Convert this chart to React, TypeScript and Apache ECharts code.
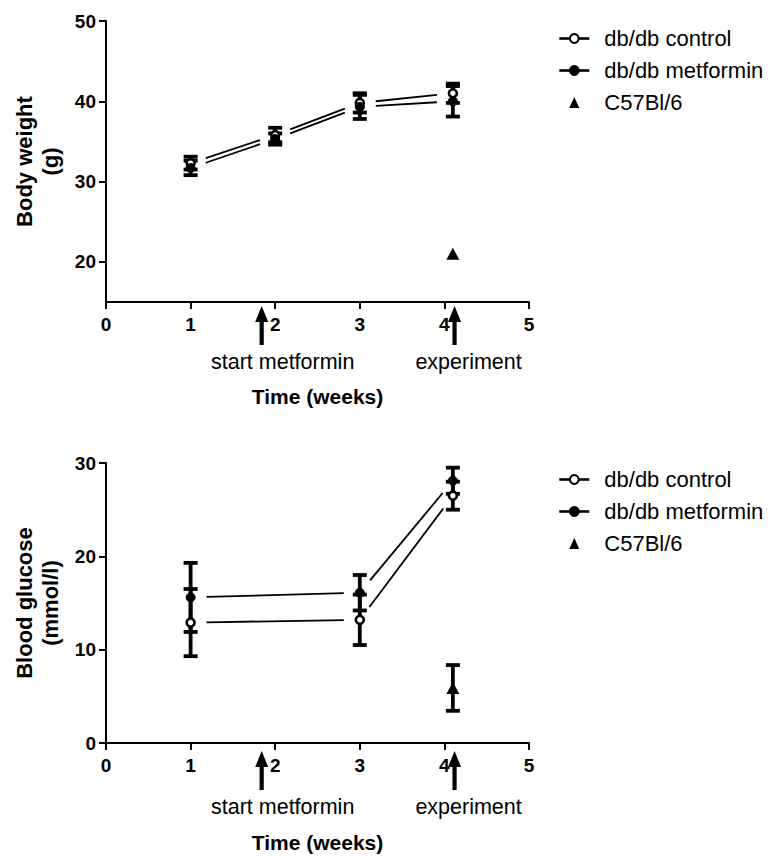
import React, { useEffect, useRef } from "react";
import * as echarts from "echarts";

// ---------- data ----------
const seriesNames = ["db/db control", "db/db metformin", "C57Bl/6"];
const xTickValues = [0, 1, 2, 3, 4, 5];

// Body weight (g)
const bwWeeks = [1, 2, 3, 4.1];
const bwControl = [32.3, 35.8, 39.8, 41.0];
const bwControlErr = [0.8, 0.9, 1.2, 1.2];
const bwMetformin = [31.7, 35.3, 39.3, 40.0];
const bwMetforminErr = [0.9, 0.7, 1.5, 1.9];
const bwC57Weeks = [4.1];
const bwC57 = [21.0];
const bwC57Err = [0];
const bwTicks = [20, 30, 40, 50];

// Blood glucose (mmol/l)
const bgWeeks = [1, 3, 4.1];
const bgControl = [12.9, 13.2, 26.5];
const bgControlErr = [3.6, 2.7, 1.5];
const bgMetformin = [15.6, 16.1, 28.1];
const bgMetforminErr = [3.7, 1.9, 1.4];
const bgC57Weeks = [4.1];
const bgC57 = [5.9];
const bgC57Err = [2.45];
const bgTicks = [0, 10, 20, 30];

// annotations
const arrowWeeks = [1.84, 4.12];
const arrowLabels = ["start metformin", "experiment"];

// ---------- layout / style ----------
const FONT = "'Liberation Sans', Arial, sans-serif";
const arrowLabelDx = [21, 14];
const LINE_GAP = 16;

const segs = (xs: number[], ys: number[]) => {
  const out: number[][] = [];
  for (let i = 0; i < xs.length - 1; i++) out.push([xs[i], ys[i], xs[i + 1], ys[i + 1]]);
  return out;
};
const errs = (xs: number[], ys: number[], es: number[]) =>
  xs.map((x, i) => [x, ys[i] - es[i], ys[i] + es[i]]).filter((d) => d[2] > d[1]);
const pts = (xs: number[], ys: number[]) => xs.map((x, i) => [x, ys[i]]);

const segmentSeries = (gi: number, xs: number[], ys: number[]) => ({
  type: "custom",
  xAxisIndex: gi,
  yAxisIndex: gi,
  silent: true,
  z: 2,
  encode: { x: [0, 2], y: [1, 3] },
  data: segs(xs, ys),
  renderItem: (params: any, api: any) => {
    const p1 = api.coord([api.value(0), api.value(1)]);
    const p2 = api.coord([api.value(2), api.value(3)]);
    const dx = p2[0] - p1[0];
    const dy = p2[1] - p1[1];
    const len = Math.hypot(dx, dy);
    const ux = dx / len;
    const uy = dy / len;
    return {
      type: "line",
      shape: {
        x1: p1[0] + ux * LINE_GAP,
        y1: p1[1] + uy * LINE_GAP,
        x2: p2[0] - ux * LINE_GAP,
        y2: p2[1] - uy * LINE_GAP,
      },
      style: { stroke: "#000", lineWidth: 1.8 },
    };
  },
});

const errorSeries = (gi: number, xs: number[], ys: number[], es: number[]) => ({
  type: "custom",
  xAxisIndex: gi,
  yAxisIndex: gi,
  silent: true,
  z: 3,
  encode: { x: 0, y: [1, 2] },
  data: errs(xs, ys, es),
  renderItem: (params: any, api: any) => {
    const lo = api.coord([api.value(0), api.value(1)]);
    const hi = api.coord([api.value(0), api.value(2)]);
    const w = 7;
    const st = { stroke: "#000", lineWidth: 3.8 };
    return {
      type: "group",
      children: [
        { type: "line", shape: { x1: lo[0], y1: lo[1], x2: hi[0], y2: hi[1] }, style: st },
        { type: "line", shape: { x1: lo[0] - w, y1: lo[1], x2: lo[0] + w, y2: lo[1] }, style: st },
        { type: "line", shape: { x1: hi[0] - w, y1: hi[1], x2: hi[0] + w, y2: hi[1] }, style: st },
      ],
    };
  },
});

const markerSeries = (gi: number) => [
  {
    name: seriesNames[0],
    type: "line",
    xAxisIndex: gi,
    yAxisIndex: gi,
    z: 5,
    data: pts(gi === 0 ? bwWeeks : bgWeeks, gi === 0 ? bwControl : bgControl),
    symbol: "circle",
    symbolSize: 8,
    showSymbol: true,
    lineStyle: { opacity: 0 },
    itemStyle: { color: "#fff", borderColor: "#000", borderWidth: 2.6, opacity: 1 },
  },
  {
    name: seriesNames[1],
    type: "line",
    xAxisIndex: gi,
    yAxisIndex: gi,
    z: 6,
    data: pts(gi === 0 ? bwWeeks : bgWeeks, gi === 0 ? bwMetformin : bgMetformin),
    symbol: "circle",
    symbolSize: 9,
    showSymbol: true,
    lineStyle: { opacity: 0 },
    itemStyle: { color: "#000", borderColor: "#000", borderWidth: 1, opacity: 1 },
  },
  {
    name: seriesNames[2],
    type: "scatter",
    xAxisIndex: gi,
    yAxisIndex: gi,
    z: 6,
    data: pts(gi === 0 ? bwC57Weeks : bgC57Weeks, gi === 0 ? bwC57 : bgC57),
    symbol: "triangle",
    symbolSize: [13, 12],
    itemStyle: { color: "#000", opacity: 1 },
  },
];

const arrowSeries = (gi: number, dy: number) => ({
  type: "custom",
  xAxisIndex: gi,
  yAxisIndex: gi,
  silent: true,
  clip: false,
  z: 8,
  encode: { x: 0 },
  data: arrowWeeks.map((w) => [w, 0]),
  renderItem: (params: any, api: any) => {
    const idx = params.dataIndex;
    const cs = params.coordSys;
    const base = cs.y + cs.height + dy;
    const x = api.coord([api.value(0), 0])[0];
    return {
      type: "group",
      children: [
        {
          type: "polygon",
          shape: { points: [[x, base + 4], [x - 6.5, base + 20], [x + 6.5, base + 20]] },
          style: { fill: "#000" },
        },
        { type: "rect", shape: { x: x - 2.1, y: base + 18, width: 4.2, height: 25 }, style: { fill: "#000" } },
        {
          type: "text",
          x: x + arrowLabelDx[idx],
          y: base + 60,
          style: {
            text: arrowLabels[idx],
            fill: "#000",
            font: `21.5px ${FONT}`,
            align: "center",
            verticalAlign: "middle",
          },
        },
      ],
    };
  },
});

const xAxisBase = (gi: number, nameGap: number) => ({
  type: "value",
  gridIndex: gi,
  min: 0,
  max: 5,
  interval: 1,
  name: "Time (weeks)",
  nameLocation: "middle",
  nameGap,
  nameTextStyle: { fontFamily: FONT, fontWeight: "bold", fontSize: 21, color: "#000" },
  axisLine: { show: true, onZero: false, lineStyle: { color: "#000", width: 2 } },
  axisTick: { show: true, length: 7, lineStyle: { color: "#000", width: 2 }, customValues: xTickValues },
  axisLabel: { fontFamily: FONT, fontWeight: "bold", fontSize: 19, color: "#000", margin: 13, customValues: xTickValues },
  splitLine: { show: false },
});

const yAxisBase = (gi: number, min: number, max: number, ticks: number[], name: string) => ({
  type: "value",
  gridIndex: gi,
  min,
  max,
  name,
  nameLocation: "middle",
  nameRotate: 90,
  nameGap: 41,
  nameTextStyle: { fontFamily: FONT, fontWeight: "bold", fontSize: 22, color: "#000", lineHeight: 26 },
  axisLine: { show: true, onZero: false, lineStyle: { color: "#000", width: 2 } },
  axisTick: { show: true, length: 7, lineStyle: { color: "#000", width: 2 }, customValues: ticks },
  axisLabel: { fontFamily: FONT, fontWeight: "bold", fontSize: 19, color: "#000", margin: 10, customValues: ticks },
  splitLine: { show: false },
});

const legendBase = (top: number) => ({
  orient: "vertical",
  left: 553,
  top,
  data: [
    seriesNames[0],
    seriesNames[1],
    { name: seriesNames[2], icon: "path://M5,0L10,11L0,11Z" },
  ],
  selectedMode: false,
  itemWidth: 30,
  itemHeight: 11,
  itemGap: 9,
  symbolKeepAspect: true,
  textStyle: { fontFamily: FONT, fontSize: 22, color: "#000", lineHeight: 23, padding: [0, 0, 0, 10] },
  lineStyle: { opacity: 1, width: 2.6, color: "#000" },
});

export default function App() {
  const ref = useRef<HTMLDivElement>(null);
  useEffect(() => {
    if (!ref.current) return;
    const chart = echarts.init(ref.current, undefined, { renderer: "svg" });
    chart.setOption({
      animation: false,
      backgroundColor: "#fff",
      grid: [
        { left: 106, top: 21, width: 423, height: 281 },
        { left: 106, top: 463, width: 423, height: 280 },
      ],
      xAxis: [xAxisBase(0, 84), xAxisBase(1, 89)],
      yAxis: [
        yAxisBase(0, 15, 50, bwTicks, "Body weight\n(g)"),
        yAxisBase(1, 0, 30, bgTicks, "Blood glucose\n(mmol/l)"),
      ],
      legend: [legendBase(22), legendBase(463)],
      series: [
        segmentSeries(0, bwWeeks, bwControl),
        segmentSeries(0, bwWeeks, bwMetformin),
        errorSeries(0, bwWeeks, bwControl, bwControlErr),
        errorSeries(0, bwWeeks, bwMetformin, bwMetforminErr),
        errorSeries(0, bwC57Weeks, bwC57, bwC57Err),
        ...markerSeries(0),
        arrowSeries(0, 0),
        segmentSeries(1, bgWeeks, bgControl),
        segmentSeries(1, bgWeeks, bgMetformin),
        errorSeries(1, bgWeeks, bgControl, bgControlErr),
        errorSeries(1, bgWeeks, bgMetformin, bgMetforminErr),
        errorSeries(1, bgC57Weeks, bgC57, bgC57Err),
        ...markerSeries(1),
        arrowSeries(1, 4),
      ],
    });
    return () => chart.dispose();
  }, []);
  return (
    <div
      ref={ref}
      style={{ position: "fixed", left: 0, top: 0, width: 769, height: 856, background: "#fff" }}
    />
  );
}
